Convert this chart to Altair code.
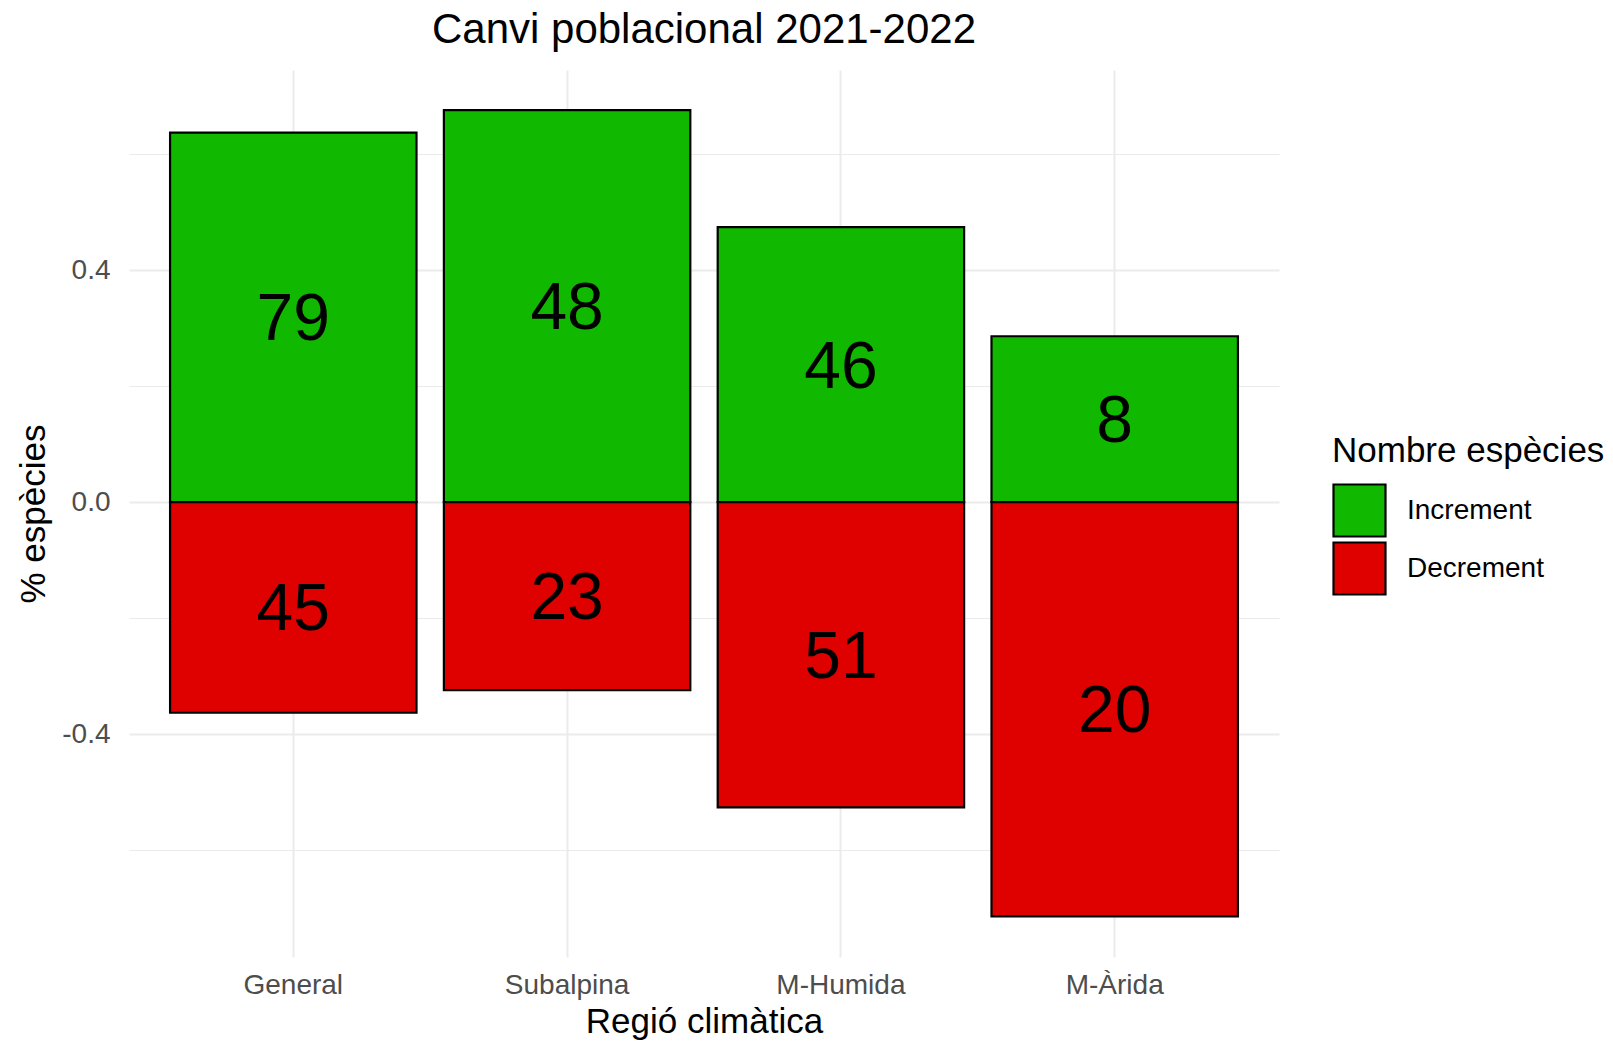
import altair as alt
import pandas as pd

# ---- data ----
regions = ["General", "Subalpina", "M-Humida", "M-Àrida"]
increment_prop = [0.637, 0.676, 0.474, 0.286]
decrement_prop = [-0.363, -0.324, -0.526, -0.714]
increment_n = [79, 48, 46, 8]
decrement_n = [45, 23, 51, 20]
series = ["Increment", "Decrement"]
colors = ["#10B800", "#DF0000"]
y_ticks = [-0.6, -0.4, -0.2, 0.0, 0.2, 0.4, 0.6]

rows = []
for r, p, n in zip(regions, increment_prop, increment_n):
    rows.append({"regio": r, "tipus": "Increment", "valor": p, "n": n})
for r, p, n in zip(regions, decrement_prop, decrement_n):
    rows.append({"regio": r, "tipus": "Decrement", "valor": p, "n": n})
df = pd.DataFrame(rows)

FONT = "Liberation Sans"
W, H = 1150, 887
PL, PT = 129, 70

x_enc = alt.X(
    "regio:N",
    sort=regions,
    scale=alt.Scale(paddingInner=0.1, paddingOuter=0.15),
    axis=alt.Axis(
        title="Regió climàtica",
        titleFont=FONT, titleFontSize=35, titleFontWeight="normal", titleColor="#000000",
        titleBaseline="alphabetic", titleY=75,
        labelFont=FONT, labelFontSize=28, labelColor="#4D4D4D", labelPadding=14,
        labelAngle=0,
        domain=False, ticks=False, tickSize=0,
        grid=True, gridColor="#EBEBEB", gridWidth=2, bandPosition=0.5,
    ),
)

y_scale = alt.Scale(domain=[-0.784, 0.745], nice=False, zero=False)
y_axis = alt.Axis(
    title="% espècies",
    titleFont=FONT, titleFontSize=35, titleFontWeight="normal", titleColor="#000000",
    titleAngle=-90, titleBaseline="alphabetic", titleAlign="center",
    titleX=-85, titleY=H / 2,
    values=y_ticks,
    labelExpr="abs(datum.value) == 0.4 || datum.value == 0 ? replace(format(datum.value, '.1f'), '\u2212', '-') : ''",
    labelFont=FONT, labelFontSize=28, labelColor="#4D4D4D", labelPadding=19,
    domain=False, ticks=False, tickSize=0,
    grid=True, gridColor="#EBEBEB",
    gridWidth={"condition": {"test": "abs(datum.value) == 0.4 || datum.value == 0", "value": 2}, "value": 1.2},
)

base = alt.Chart(df)

bars = base.mark_bar(stroke="#000000", strokeWidth=2.2).encode(
    x=x_enc,
    y=alt.Y("valor:Q", scale=y_scale, axis=y_axis),
    y2=alt.datum(0),
    color=alt.Color(
        "tipus:N",
        scale=alt.Scale(domain=series, range=colors),
        legend=alt.Legend(
            title="Nombre espècies",
            orient="none", legendX=1203, legendY=364,
            titleFont=FONT, titleFontSize=35, titleFontWeight="normal", titleColor="#000000",
            titlePadding=14, titleLimit=500,
            labelFont=FONT, labelFontSize=28, labelColor="#000000", labelOffset=20,
            labelLimit=400,
            symbolType="square", symbolSize=2704, symbolStrokeColor="#000000",
            symbolStrokeWidth=2.2, symbolOpacity=1, rowPadding=-5, padding=0,
        ),
    ),
)

labels = base.transform_calculate(mid="datum.valor / 2").mark_text(
    font=FONT, fontSize=66, color="#000000", baseline="middle", align="center", dy=3
).encode(
    x=alt.X("regio:N", sort=regions),
    y=alt.Y("mid:Q"),
    text="n:Q",
)

chart = alt.layer(bars, labels).properties(
    width=W,
    height=H,
    title=alt.TitleParams(
        "Canvi poblacional 2021-2022",
        font=FONT, fontSize=42, fontWeight="normal", color="#000000",
        anchor="middle", baseline="alphabetic", offset=28, dy=43,
    ),
    autosize=alt.AutoSizeParams(type="none"),
    padding={"left": PL, "top": PT, "right": 1613 - PL - W, "bottom": 1043 - PT - H},
    background="#FFFFFF",
).configure_view(stroke=None)

chart.save("out.html", embed_options={"renderer": "svg", "actions": False})
